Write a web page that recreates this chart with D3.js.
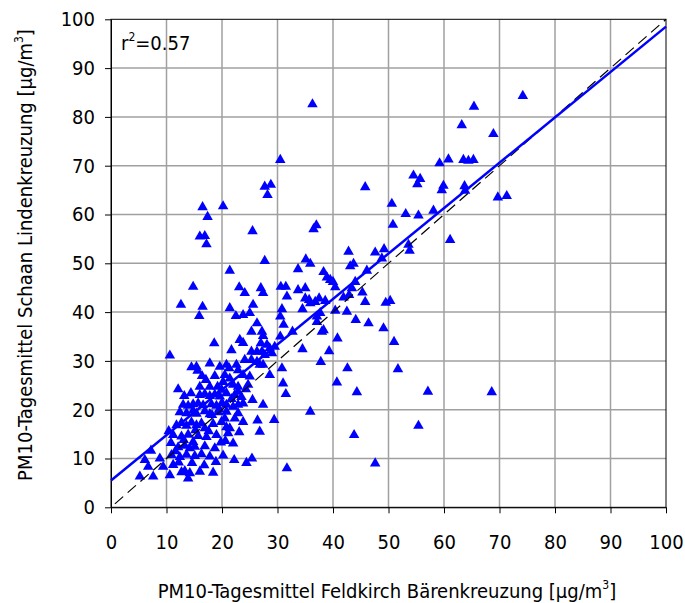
<!DOCTYPE html>
<html>
<head>
<meta charset="utf-8">
<script src="https://cdn.jsdelivr.net/npm/d3@7"></script>
<style>
  body { margin: 0; background: #fff; }
  svg { display: block; }
  text { font-family: "DejaVu Sans Condensed", "DejaVu Sans", sans-serif; fill: #000; }
</style>
</head>
<body>
<div id="chart"></div>
<script>
// daily means [Feldkirch, Schaan] in µg/m3
const days = [
  [74.2,84.3],[65.4,82.1],[36.3,82.6],[63.2,78.3],[68.9,76.5],[30.5,71.2],[59.2,70.5],[60.8,71.3],
  [63.5,71.2],[64.4,71],[65.3,71.2],[54.5,68],[55.7,67.3],[55.2,66.2],[59.9,65.9],[59.6,65],
  [63.7,65.8],[63.8,64.9],[45.8,65.6],[69.7,63.5],[71.3,63.8],[50.6,62.2],[53.1,60.1],[55.4,59.8],
  [58.1,60.8],[37,57.8],[36.5,57],[50.8,57.9],[61.1,54.8],[42.8,52.4],[47.6,52.2],[49.2,52.9],
  [53.6,53.8],[53.8,52.6],[48.8,51],[43.1,49.4],[43.7,49.9],[46.1,48.5],[35.9,49.9],[35.1,50.8],
  [33.7,48.8],[38.3,48.2],[38.9,47.1],[39.5,46.6],[40,46.2],[40.4,45.1],[44,46.2],[43.4,44.9],
  [45.3,44],[41.9,43],[42.9,43.5],[45.8,42.1],[49.5,41.9],[50.3,42.3],[35.9,41.8],[36.8,42.1],
  [37.5,42.8],[38.6,42.3],[37.7,39.8],[37.1,39.1],[37.1,38],[40.4,40.3],[42.5,40.1],[44.1,38.4],
  [46.4,37.7],[49.1,36.7],[38,36],[38.3,36.3],[40.8,34.6],[51,33.9],[39.3,32],[37.8,29.8],
  [42.6,28.5],[51.7,28.3],[40.7,25.6],[44.3,23.6],[57.1,23.7],[68.6,23.6],[35.9,19.6],[55.4,16.7],
  [43.8,14.8],[47.6,9],
  [27.7,65.7],[28.8,66.1],[28.2,64],[16.5,61.5],[20.2,61.7],[17.4,59.5],[25.5,56.6],[16,55.5],
  [16.9,55.6],[17.2,53.9],[27.7,50.5],[21.4,48.5],[14.8,45.2],[23.1,45.1],[24.1,43.9],[27,44.9],
  [27.4,43.9],[30.6,45.2],[31.5,45.2],[33.7,44.5],[35,44.9],[31.7,43.2],[35,42.8],[35.7,42.5],
  [25.6,41.5],[21.4,40.8],[22.5,39.2],[23.8,39.4],[25,39.8],[30.8,40.6],[30.5,39.1],[34.5,40.6],
  [26.3,37.7],[25.3,36],[27.2,36],[27.4,35.1],[31.1,37.4],[30.5,35],[32.7,36],[23.2,34.3],
  [23.8,33.7],[27,33.6],[28.1,33.3],[28.6,32.6],[29,31.6],[29.5,32.9],[21.7,32.2],[34.5,32.4],
  [25.3,31.9],[26.3,31.9],[27.2,31.9],[27.7,31.2],[24.1,30.2],[25.3,30.2],[19.6,28.8],[20.8,29.2],
  [21.3,28.5],[22.6,29.2],[22.9,28.1],[26.3,29.8],[26.8,29.2],[27.4,29.2],[30.8,28.5],[20.5,27.1],
  [21.4,26.4],[20.2,25.7],[23.8,27.1],[25,26.8],[24.7,25.1],[28.6,27.1],[22,25.1],[22.9,24.7],
  [31,25.4],
  [12.6,41.5],[16.5,41.1],[15.9,39.2],[18.6,33.6],[10.6,31.1],[14.5,28.7],[15.4,28.8],[15.6,28],
  [17.8,29.5],[18.7,26.9],[16,24.7],[17.8,24.7],[19.2,24.7],
  [20.8,23.4],[22.3,23],[22.9,23.7],[25.5,22],[27.4,21],[31.5,23.2],[20.8,21],[22,20.6],
  [22.9,21],[23.8,21.3],[22.9,19.3],[23.8,17.5],[20.5,18.2],[22.3,18.2],[19.9,17.5],[26.4,17.8],
  [29.4,17.9],[26.8,15.5],[21.4,16.2],[21.1,15.2],[22,13.1],[22.2,9.7],[24.4,9.1],[25.4,10],
  [31.7,8],
  [16,23],[16.9,23.2],[17.8,22.8],[18.7,23.1],[19.6,22.7],
  [13,21],[13.9,20.8],[14.8,21.1],[15.7,21.3],[16.6,20.9],[18.1,21.1],[19,20.8],[20,21.4],
  [12.4,19.5],[13.6,19.3],[14.8,19.8],[15.4,19.2],[16.9,19.7],[17.8,19.1],[19.3,19.5],[20.8,19.6],
  [11.8,16.8],[12.7,17.3],[13.6,16.7],[14.5,17.4],[15.4,16.8],[16.3,17.2],[16.9,16.2],[18.4,17.1],
  [11.2,14.8],[12.7,14.5],[13.9,14.9],[14.8,13.4],[15.7,14.6],[17.2,14.4],[19,14.8],[20.8,16.4],
  [12.1,12.3],[13.3,12.6],[14.2,12.1],[15.1,12.4],[16.9,12.5],[18.7,12.1],
  [10.9,10.7],[12.4,10.3],[13.6,10.8],[15.1,10.5],[16.3,10.9],[17.8,10.4],[20.2,10.6],
  [6.1,9.7],[8.8,10],[6.7,8.3],[9.4,8.3],[11.2,8.7],[7.6,6.3],[5.2,6.3],[10.6,6.6],[13.9,5.9],
  [12.7,7.2],[13.3,7.4],[14.2,7],[16,7.3],[18.4,7.1],[7.2,11.6],
  [10.4,15.6],[10.8,13.2],[11.6,11.5],[12.2,9.2],[14.6,9.1],[16.8,8.6],[18.9,9.3],[19.8,13.3],
  [17.6,15.6],[18.2,18.9],[19.9,24.1],[17.1,26.1],[14.4,23.4],[13.2,22.8],[12.1,24.2],[16.4,26.9],
  [19.5,20.1],[21.7,22.2],[24.3,24.2],[23.5,22.6],[20.6,13.6],[23.1,15.4],[15.2,15.8],[13.1,13.8]
];

const xTicks = [0,10,20,30,40,50,60,70,80,90,100];
const yTicks = [0,10,20,30,40,50,60,70,80,90,100];
const trend = { slope: 0.93, intercept: 5.5 };   // fitted line as drawn
const r2Label = "0.57";

const width = 685, height = 603;
const x = d3.scaleLinear().domain([0, 100]).range([111, 666]);
const y = d3.scaleLinear().domain([0, 100]).range([507.3, 19.3]);

const svg = d3.select("#chart").append("svg")
  .attr("width", width).attr("height", height);

// grid
svg.append("g").selectAll("line").data(xTicks.slice(1, -1)).join("line")
  .attr("x1", d => x(d)).attr("x2", d => x(d))
  .attr("y1", y(0)).attr("y2", y(100))
  .attr("stroke", "#a0a0a0").attr("stroke-width", 1.5);
svg.append("g").selectAll("line").data(yTicks.slice(1, -1)).join("line")
  .attr("y1", d => y(d)).attr("y2", d => y(d))
  .attr("x1", x(0)).attr("x2", x(100))
  .attr("stroke", "#a0a0a0").attr("stroke-width", 1.5);

// frame
svg.append("rect")
  .attr("x", x(0)).attr("y", y(100))
  .attr("width", x(100) - x(0)).attr("height", y(0) - y(100))
  .attr("fill", "none").attr("stroke", "#000").attr("stroke-width", 1);

// axes
const xAxis = svg.append("g").attr("transform", `translate(0,${y(0)})`)
  .call(d3.axisBottom(x).tickValues(xTicks).tickSize(6).tickPadding(22).tickSizeOuter(0));
const yAxis = svg.append("g").attr("transform", `translate(${x(0)},0)`)
  .call(d3.axisLeft(y).tickValues(yTicks).tickSize(6).tickPadding(10).tickSizeOuter(0));
[xAxis, yAxis].forEach(a => {
  a.select(".domain").attr("stroke", "#000");
  a.selectAll(".tick line").attr("stroke", "#000");
  a.selectAll("text").style("font-size", "20px")
    .style("font-family", '"DejaVu Sans Condensed", "DejaVu Sans", sans-serif');
});

// points
svg.append("g").selectAll("path").data(days).join("path")
  .attr("transform", d => `translate(${x(d[0])},${y(d[1])})`)
  .attr("d", d3.symbol(d3.symbolTriangle, 48))
  .attr("fill", "#0000ff");

// 1:1 line
svg.append("line")
  .attr("x1", x(0.7)).attr("y1", y(0.7))
  .attr("x2", x(100)).attr("y2", y(100))
  .attr("stroke", "#000").attr("stroke-width", 1.2)
  .attr("stroke-dasharray", "11,6");

// regression line
svg.append("line")
  .attr("x1", x(0)).attr("y1", y(trend.intercept))
  .attr("x2", x(100)).attr("y2", y(trend.intercept + trend.slope * 100))
  .attr("stroke", "#0000ff").attr("stroke-width", 2.5);

// r² label
const r2 = svg.append("text").attr("x", 121).attr("y", 50).style("font-size", "20px");
r2.append("tspan").text("r");
r2.append("tspan").attr("dy", -9).style("font-size", "12px").text("2");
r2.append("tspan").attr("dy", 9).text("=" + r2Label);

// axis titles
const xt = svg.append("text").attr("x", 387).attr("y", 598)
  .attr("text-anchor", "middle").style("font-size", "20px");
xt.append("tspan").text("PM10-Tagesmittel Feldkirch Bärenkreuzung [µg/m");
xt.append("tspan").attr("dy", -9).style("font-size", "12px").text("3");
xt.append("tspan").attr("dy", 9).text("]");

const yt = svg.append("text")
  .attr("transform", "translate(32,255) rotate(-90)")
  .attr("text-anchor", "middle").style("font-size", "20px");
yt.append("tspan").text("PM10-Tagesmittel Schaan Lindenkreuzung [µg/m");
yt.append("tspan").attr("dy", -9).style("font-size", "12px").text("3");
yt.append("tspan").attr("dy", 9).text("]");
</script>
</body>
</html>
